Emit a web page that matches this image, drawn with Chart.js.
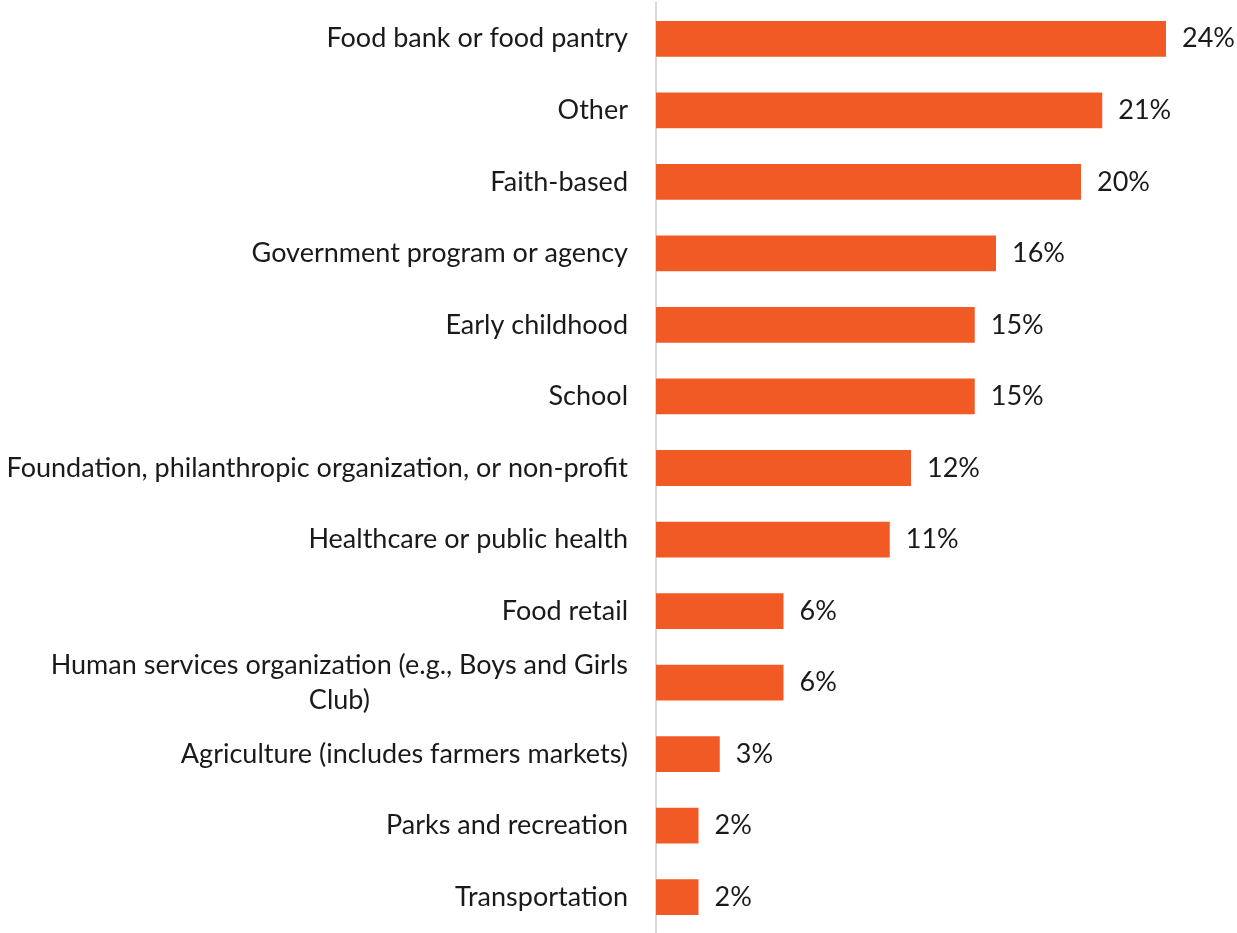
<!DOCTYPE html>
<html>
<head>
<meta charset="utf-8">
<title>Tipos de organização</title>
<script src="https://cdn.jsdelivr.net/npm/chart.js@4"></script>
<style>
  html, body { margin: 0; padding: 0; background: #ffffff; }
  #caixa { width: 1237px; height: 933px; }
</style>
</head>
<body>
<div id="caixa"><canvas id="grafico"></canvas></div>
<script>
// Categorias (a de duas linhas vai como array)
const categorias = [
    'Food bank or food pantry',
    'Other',
    'Faith-based',
    'Government program or agency',
    'Early childhood',
    'School',
    'Foundation, philanthropic organization, or non-profit',
    'Healthcare or public health',
    'Food retail',
    ['Human services organization (e.g., Boys and Girls', 'Club)'],
    'Agriculture (includes farmers markets)',
    'Parks and recreation',
    'Transportation'
];

// Percentuais de cada categoria
const valores = [24, 21, 20, 16, 15, 15, 12, 11, 6, 6, 3, 2, 2];

// Limites do eixo x
const eixoMin = 0;
const eixoMax = 24;

const corBarra = '#f15a24';
const corTexto = '#1a1a1a';
const fonte = '27px Lato';

// Plugin que escreve os nomes das categorias e os percentuais
const rotulosPlugin = {
    id: 'rotulos',
    afterDatasetsDraw(chart) {
        const { ctx, chartArea, scales: { y } } = chart;
        const meta = chart.getDatasetMeta(0);
        ctx.save();
        ctx.font = fonte;
        ctx.fillStyle = corTexto;
        ctx.textBaseline = 'middle';

        categorias.forEach((cat, i) => {
            const linhas = Array.isArray(cat) ? cat : [cat];
            const yc = y.getPixelForValue(i);
            const largura = Math.max(...linhas.map(l => ctx.measureText(l).width));
            const direita = chartArea.left - 28;

            // linhas centralizadas entre si, bloco alinhado à direita
            ctx.textAlign = 'center';
            linhas.forEach((l, j) => {
                const yl = yc + (j - (linhas.length - 1) / 2) * 35;
                ctx.fillText(l, direita - largura / 2, yl);
            });

            // valor ao lado da barra
            const barra = meta.data[i];
            ctx.textAlign = 'left';
            ctx.fillText(valores[i] + '%', barra.x + 16, yc);
        });
        ctx.restore();
    }
};

const ctx = document.getElementById('grafico').getContext('2d');
new Chart(ctx, {
    type: 'bar',
    data: {
        labels: categorias,
        datasets: [{
            data: valores,
            backgroundColor: corBarra,
            borderWidth: 0,
            barPercentage: 0.5,
            categoryPercentage: 1
        }]
    },
    options: {
        indexAxis: 'y',
        responsive: true,
        maintainAspectRatio: false,
        animation: false,
        layout: {
            padding: { left: 648, right: 71, top: 3, bottom: 0 }
        },
        plugins: {
            legend: { display: false },
            tooltip: { enabled: false }
        },
        scales: {
            x: {
                display: false,
                min: eixoMin,
                max: eixoMax
            },
            y: {
                grid: { display: false },
                ticks: { display: false },
                border: { display: true, color: '#d9d9d9', width: 2 }
            }
        }
    },
    plugins: [rotulosPlugin]
});
</script>
</body>
</html>
